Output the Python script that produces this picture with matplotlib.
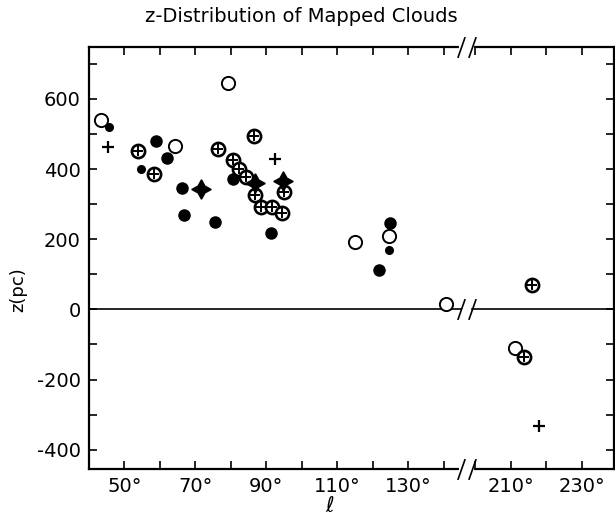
import numpy as np
import matplotlib.pyplot as plt
from matplotlib.path import Path

plt.rcParams['axes.unicode_minus'] = False
plt.rcParams['font.family'] = 'DejaVu Sans'

# galactic longitude (deg) and height z (pc)
open_l = [43.4, 64.2, 79.1, 115.1, 124.6, 140.8, 211.2]
open_z = [540, 466, 645, 193, 210, 16, -109]
filled_l = [58.9, 62.0, 66.3, 66.8, 80.5, 75.5, 91.3, 124.8, 121.8]
filled_z = [480, 431, 347, 269, 372, 250, 217, 247, 111]
small_l = [45.7, 54.6, 124.6]
small_z = [521, 401, 170]
oplus_l = [53.9, 58.4, 86.4, 76.5, 80.6, 82.3, 84.2, 86.8, 88.5, 91.5, 94.5, 95.0, 216.0, 213.6]
oplus_z = [452, 386, 493, 457, 425, 401, 378, 327, 291, 292, 274, 336, 70, -136]
plus_l = [45.4, 92.4, 218.0]
plus_z = [462, 428, -332]
star_l = [71.5, 86.9, 94.6]
star_z = [343, 360, 366]

xticks = [50, 60, 70, 80, 90, 100, 110, 120, 130, 140, 200, 210, 220, 230]
xlabels = ['50°', '', '70°', '', '90°', '', '110°', '', '130°', '', '', '210°', '', '230°']
yticks = list(range(-400, 701, 100))

# broken l axis: 146..197 deg squeezed out
def fwd(l):
    l = np.asarray(l, float)
    return np.where(l <= 146, l, np.where(l >= 197, l - 51, 146))

def inv(x):
    x = np.asarray(x, float)
    return np.where(x <= 146, x, x + 51)

fig = plt.figure(figsize=(6.15, 5.21), dpi=100)
ax = fig.add_axes([0.1447, 0.0998, 0.8533, 0.81])
ax.set_xscale('function', functions=(fwd, inv))
ax.set_xlim(40, 239)
ax.set_ylim(-455, 748)

ax.plot(filled_l, filled_z, 'o', color='k', ms=8, zorder=3)
ax.plot(small_l, small_z, 'o', color='k', ms=5.5, zorder=3)
ax.plot(open_l, open_z, 'o', mfc='white', mec='k', ms=9.5, mew=1.4, zorder=3)
ax.plot(oplus_l, oplus_z, 'o', mfc='white', mec='k', ms=9.5, mew=1.9, zorder=4)
ax.plot(oplus_l, oplus_z, '+', color='k', ms=6.5, mew=1.4, zorder=4)
ax.plot(plus_l, plus_z, '+', color='k', ms=8.5, mew=1.6, zorder=3)
ax.plot(star_l, star_z, marker=(4, 1, 0), ls='none', color='k', ms=14, zorder=5)

# z = 0 line, with break
ax.plot([40, 144.8], [0, 0], color='k', lw=1.2, zorder=2)
ax.plot([198.9, 239], [0, 0], color='k', lw=1.2, zorder=2)

slash = Path([(-0.35, -1), (0.35, 1)], [Path.MOVETO, Path.LINETO])
brk = [144.8, 198.9]
trans = ax.get_xaxis_transform()
for yy in [0, 1]:
    ax.plot(brk, [yy, yy], color='white', lw=3, transform=trans, clip_on=False, zorder=6)
    ax.plot(brk, [yy, yy], ls='none', marker=slash, ms=15, mew=1.2, color='k',
            transform=trans, clip_on=False, zorder=7)
ax.plot(brk, [0, 0], ls='none', marker=slash, ms=15, mew=1.2, color='k', zorder=7)

ax.set_xticks(xticks)
ax.set_xticklabels(xlabels)
ax.set_yticks(yticks)
ax.set_yticklabels([str(v) if v % 200 == 0 else '' for v in yticks])
ax.tick_params(direction='in', length=6, width=1.2, labelsize=14,
               top=True, right=True, pad=6)
for s in ax.spines.values():
    s.set_linewidth(1.6)

fig.text(301 / 615, 1 - 16 / 521, 'z-Distribution of Mapped Clouds', fontsize=14,
         ha='center', va='center')
fig.text(330 / 615, 1 - 506 / 521, 'ℓ', fontsize=15, ha='center', va='center')
fig.text(18 / 615, 1 - 290 / 521, 'z(pc)', fontsize=13, rotation=90, ha='center', va='center')

fig.savefig('out.png', dpi=100)
